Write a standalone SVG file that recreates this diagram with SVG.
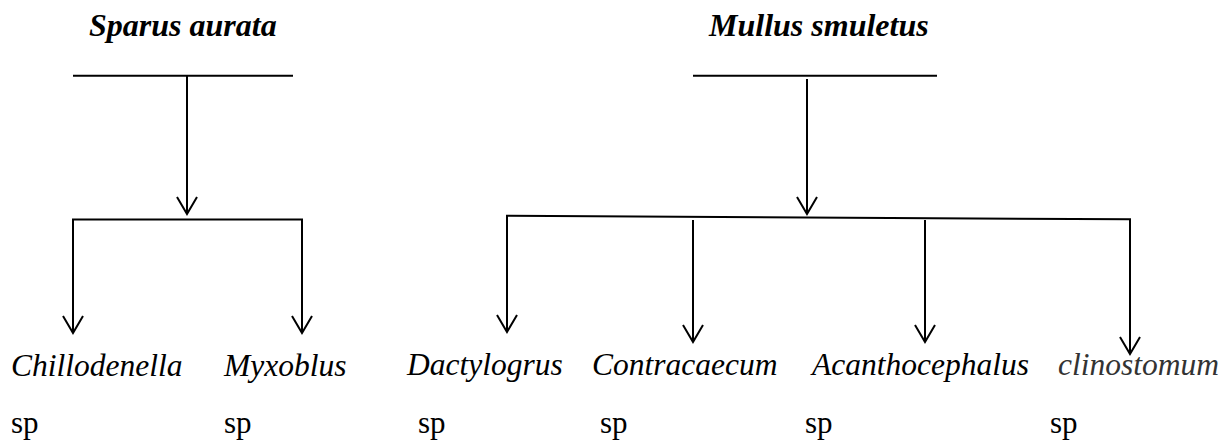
<svg xmlns="http://www.w3.org/2000/svg" width="1231" height="444" viewBox="0 0 1231 444">
<style>
text{font-family:'Liberation Serif','DejaVu Serif','Times New Roman',serif}
.t{font-size:32px;font-weight:bold;font-style:italic;fill:#000}
.g{font-size:31.5px;font-style:italic;fill:#000}
.s{font-size:31px;fill:#000}
.ln{stroke:#000;stroke-width:2;fill:none}
</style>
<defs>
<marker id="ah" viewBox="0 0 20 22" refX="18" refY="11" markerWidth="20" markerHeight="22" markerUnits="userSpaceOnUse" orient="auto">
<path d="M1,1 L18,11 L1,21" fill="none" stroke="#000" stroke-width="2"/>
</marker>
</defs>
<rect width="1231" height="444" fill="#fff"/>
<g id="sparus"><text class="t" x="89" y="36" font-family="Liberation Serif">Sparus aurata</text><line class="ln" x1="73" y1="75.7" x2="293" y2="75.7"/></g>
<g id="mullus"><text class="t" x="709" y="36" font-family="Liberation Serif">Mullus smuletus</text><line class="ln" x1="693" y1="75.7" x2="937" y2="75.7"/></g>
<g id="chillodenella"><text class="g" x="11" y="376">Chillodenella</text><text class="s" x="11" y="433">sp</text></g>
<g id="myxoblus"><text class="g" x="224" y="376">Myxoblus</text><text class="s" x="224" y="433">sp</text></g>
<g id="dactylogrus"><text class="g" x="407" y="375">Dactylogrus</text><text class="s" x="418" y="433">sp</text></g>
<g id="contracaecum"><text class="g" x="592" y="375">Contracaecum</text><text class="s" x="600" y="433">sp</text></g>
<g id="acanthocephalus"><text class="g" x="812" y="375">Acanthocephalus</text><text class="s" x="805" y="433">sp</text></g>
<g id="clinostomum"><text class="g" x="1058" y="375" style="fill:#333">clinostomum</text><text class="s" x="1050" y="433">sp</text></g>
<g id="connectors">
<line class="ln" x1="187" y1="76" x2="187" y2="214" marker-end="url(#ah)"/>
<polyline class="ln" points="73,333 73,219.5 302,219.5 302,333"/>
<line class="ln" x1="73" y1="320" x2="73" y2="333" marker-end="url(#ah)"/>
<line class="ln" x1="302" y1="320" x2="302" y2="333" marker-end="url(#ah)"/>
<line class="ln" x1="807" y1="79" x2="807" y2="214" marker-end="url(#ah)"/>
<polyline class="ln" points="507,332 507,215.7 1130,219.3 1130,354"/>
<line class="ln" x1="507" y1="320" x2="507" y2="332" marker-end="url(#ah)"/>
<line class="ln" x1="693" y1="220" x2="693" y2="342" marker-end="url(#ah)"/>
<line class="ln" x1="925" y1="220" x2="925" y2="342" marker-end="url(#ah)"/>
<line class="ln" x1="1130" y1="340" x2="1130" y2="354" marker-end="url(#ah)"/>
</g>
</svg>
